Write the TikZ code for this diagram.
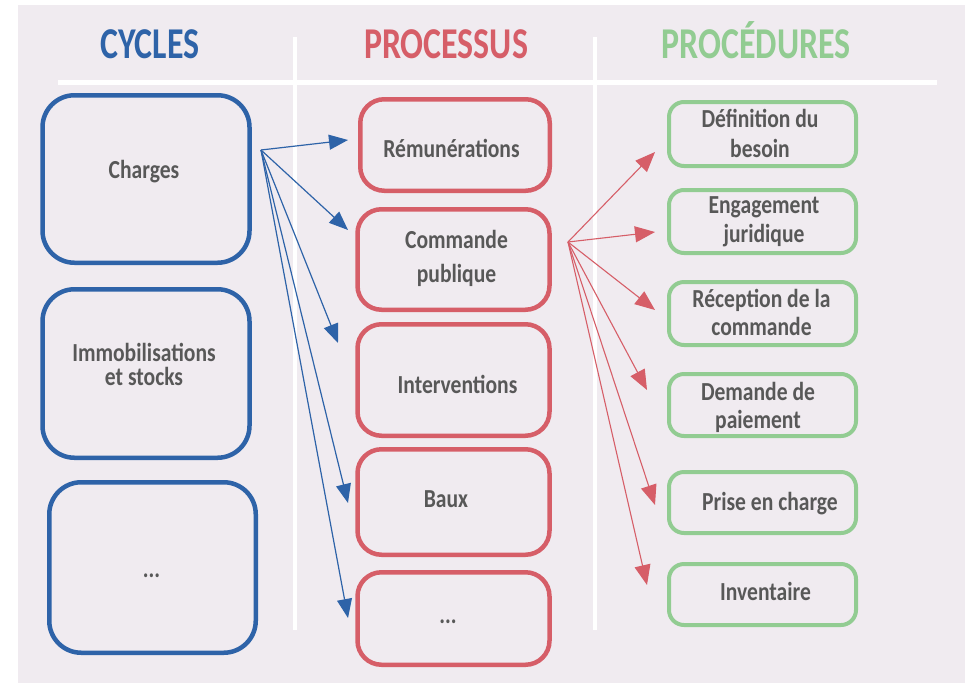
\documentclass[tikz,border=0pt]{standalone}
\usepackage{fontspec}
\setmainfont[FakeStretch=0.83]{Carlito}
\newfontfamily\headfont[FakeStretch=0.77]{Carlito}
\usetikzlibrary{arrows.meta}
\definecolor{bg}{RGB}{240,235,240}
\definecolor{cblue}{RGB}{46,99,168}
\definecolor{cred}{RGB}{214,94,104}
\definecolor{cgreen}{RGB}{146,204,146}
\definecolor{ctext}{RGB}{88,88,88}
% #1 = horizontal shift, #2 = first baseline above centre, #3 = line spacing, #4 = lines separated by \cr
\newcommand{\boxtext}[4]{\raisebox{#2pt}[0pt][0pt]{\makebox[0pt][c]{\hspace*{#1pt}\hspace*{#1pt}\fontsize{26}{#3}\selectfont\lineskiplimit=-100pt\relax\vtop{\halign{\hfil##\hfil\cr#4\crcr}}}}}
\tikzset{
  every node/.style={text=ctext, font=\bfseries},
  cyc/.style={draw=cblue, line width=4.5pt, rounded corners=32pt, minimum width=207pt, inner sep=0pt},
  pro/.style={draw=cred, line width=4.5pt, rounded corners=24pt, minimum width=192pt, inner sep=0pt},
  prc/.style={draw=cgreen, line width=4pt, rounded corners=15pt, minimum width=187pt, inner sep=0pt},
  barr/.style={draw=cblue, line width=1.2pt, -{Triangle[length=19pt,width=15pt]}},
  rarr/.style={draw=cred, line width=1.1pt, -{Triangle[length=20pt,width=16pt]}},
  head/.style={font=\headfont\fontsize{44}{44}\selectfont\bfseries, anchor=base},
  sepline/.style={draw=white, line width=5pt}
}
\begin{document}
\begin{tikzpicture}[x=1pt, y=-1pt]
\useasboundingbox (0,0) rectangle (965,683);
\fill[bg] (18,5) rectangle (965,683);
% separators
\draw[sepline] (58,82.5) -- (937,82.5);
\draw[line width=4pt, draw=white] (295,37) -- (295,630);
\draw[line width=4pt, draw=white] (594.5,37) -- (594.5,630);
% headings
\node[head, text=cblue] (hc) at (150,58) {CYCLES};
\node[head, text=cred] (hp) at (446,58) {PROCESSUS};
\node[head, text=cgreen] (hd) at (756,58) {PROCÉDURES};
% cycles
\node[cyc, minimum height=167.5pt] (c1) at (146,179) {\boxtext{-2}{1}{24}{Charges}};
\node[cyc, minimum height=168.5pt] (c2) at (146,373.5) {\boxtext{-2}{12}{24}{Immobilisations\cr et stocks}};
\node[cyc, minimum height=170.5pt, minimum width=206.5pt] (c3) at (152.5,567.5) {\boxtext{-1}{-9.5}{24}{...}};
% processus
\node[pro, minimum height=91.5pt, minimum width=189.5pt] (p1) at (455,145) {\boxtext{-3.5}{-12}{34}{Rémunérations}};
\node[pro, minimum height=100.5pt] (p2) at (453.5,259.5) {\boxtext{3}{11.5}{34}{Commande\cr publique}};
\node[pro, minimum height=111.5pt] (p3) at (453.5,380) {\boxtext{4}{-13}{34}{Interventions}};
\node[pro, minimum height=105.5pt] (p4) at (453.5,502) {\boxtext{-7.5}{-5}{34}{Baux}};
\node[pro, minimum height=92.5pt] (p5) at (453.5,618.5) {\boxtext{-5.5}{-4.5}{34}{...}};
% procedures
\node[prc, minimum height=64pt] (d1) at (762.5,134) {\boxtext{-2.5}{7}{30}{Définition du\cr besoin}};
\node[prc, minimum height=63pt] (d2) at (762.5,221.5) {\boxtext{1.5}{8.5}{29}{Engagement\cr juridique}};
\node[prc, minimum height=63pt] (d3) at (762.5,313.5) {\boxtext{-1}{6.5}{28}{Réception de la\cr commande}};
\node[prc, minimum height=62pt] (d4) at (762.5,405) {\boxtext{-4.5}{5}{28}{Demande de\cr paiement}};
\node[prc, minimum height=61pt] (d5) at (762.5,502.5) {\boxtext{7.5}{-7.5}{28}{Prise en charge}};
\node[prc, minimum height=61pt] (d6) at (762.5,594.5) {\boxtext{3}{-5.5}{28}{Inventaire}};
% arrows from cycles to processus
\coordinate (bo) at (261,150);
\coordinate (bt1) at (348,140);
\coordinate (bt2) at (348,230);
\coordinate (bt3) at (338,343);
\coordinate (bt4) at (348,503);
\coordinate (bt5) at (348,618);
\foreach \t in {bt1,bt2,bt3,bt4,bt5} \draw[barr] (bo) -- (\t);
% arrows from processus to procedures
\coordinate (ro) at (568,242);
\coordinate (rt1) at (655,152);
\coordinate (rt2) at (655,232);
\coordinate (rt3) at (655,310);
\coordinate (rt4) at (647,390);
\coordinate (rt5) at (655,505);
\coordinate (rt6) at (647,585);
\foreach \t in {rt1,rt2,rt3,rt4,rt5,rt6} \draw[rarr] (ro) -- (\t);
\end{tikzpicture}
\end{document}
